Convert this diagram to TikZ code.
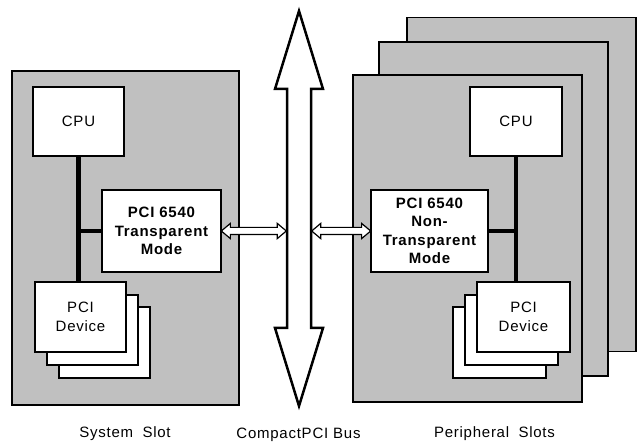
\documentclass[tikz,border=0pt]{standalone}
\usepackage{fontspec}
\setmainfont[LetterSpace=5]{Liberation Sans}
\usetikzlibrary{shapes.arrows}
\definecolor{slotgray}{RGB}{192,192,192}
\tikzset{
  board/.style={draw, fill=slotgray, line width=1.3pt, inner sep=0pt, minimum width=229, minimum height=334},
  unit/.style={draw, fill=white, line width=1.3pt, inner sep=0pt, align=center, minimum width=92, minimum height=70, font=\fontsize{15}{18.5}\selectfont},
  bridge/.style={unit, minimum height=82, font=\fontsize{15}{18.5}\selectfont\bfseries},
  local/.style={line width=4.5pt},
  link/.style={double arrow, draw, fill=white, line width=1.2pt, inner xsep=0pt, inner ysep=3pt, double arrow head extend=4, double arrow tip angle=80},
  caption/.style={anchor=base, font=\fontsize{15}{18}\selectfont}
}
\begin{document}
\begin{tikzpicture}[x=1pt,y=-1pt]
	\useasboundingbox (0,0) rectangle (638,443);
	% system slot
	\node[board, minimum width=227] (sys) at (125.5,238) {};
	\node[unit, minimum width=91, minimum height=69] (cpuS) at (78.5,121.5) {CPU};
	\node[bridge, minimum width=119] (brS) at (161.5,231) {PCI 6540\\Transparent\\Mode};
	\node[unit, minimum width=91, minimum height=71] (devS3) at (104.5,342.5) {};
	\node[unit, minimum width=91] (devS2) at (92.5,330) {};
	\node[unit, minimum width=91] (devS1) at (80.5,317) {PCI\\Device};
	\draw[local] (cpuS.south) -- (cpuS.south |- devS1.north);
	\draw[local] (brS.west) -- (brS.west -| cpuS.south);
	% peripheral slots
	\node[board] (per3) at (521.5,184.5) {};
	\node[board] (per2) at (493.5,209) {};
	\node[board, minimum height=327] (per1) at (467.5,238.5) {};
	\node[unit, minimum height=69] (cpuP) at (516,121.5) {CPU};
	\node[bridge, minimum width=117] (brP) at (429.5,231) {PCI 6540\\Non-\\Transparent\\Mode};
	\node[unit, minimum width=93, minimum height=71] (devP3) at (499.5,342.5) {};
	\node[unit, minimum width=93] (devP2) at (511.5,330) {};
	\node[unit, minimum width=93] (devP1) at (523.5,317) {PCI\\Device};
	\draw[local] (cpuP.south) -- (cpuP.south |- devP1.north);
	\draw[local] (brP.east) -- (brP.east -| cpuP.south);
	% compactpci bus
	\draw[line width=2.5pt, fill=white] (299,11) -- (323,89) -- (311,89) -- (311,328) -- (323,328) -- (299,406) -- (275,328) -- (287,328) -- (287,89) -- (275,89) -- cycle;
	\coordinate (busW) at (286,231);
	\coordinate (busE) at (312,231);
	\path (brS.east) -- (busW) node[link, midway, minimum height=65] (linkS) {};
	\path (busE) -- (brP.west) node[link, midway, minimum height=59] (linkP) {};
	% captions
	\node[caption] (lblS) at (125,438) {System\hspace{0.3em} Slot};
	\node[caption] (lblB) at (298.5,439) {CompactPCI Bus};
	\node[caption] (lblP) at (494.5,438) {Peripheral\hspace{0.3em} Slots};
\end{tikzpicture}
\end{document}
